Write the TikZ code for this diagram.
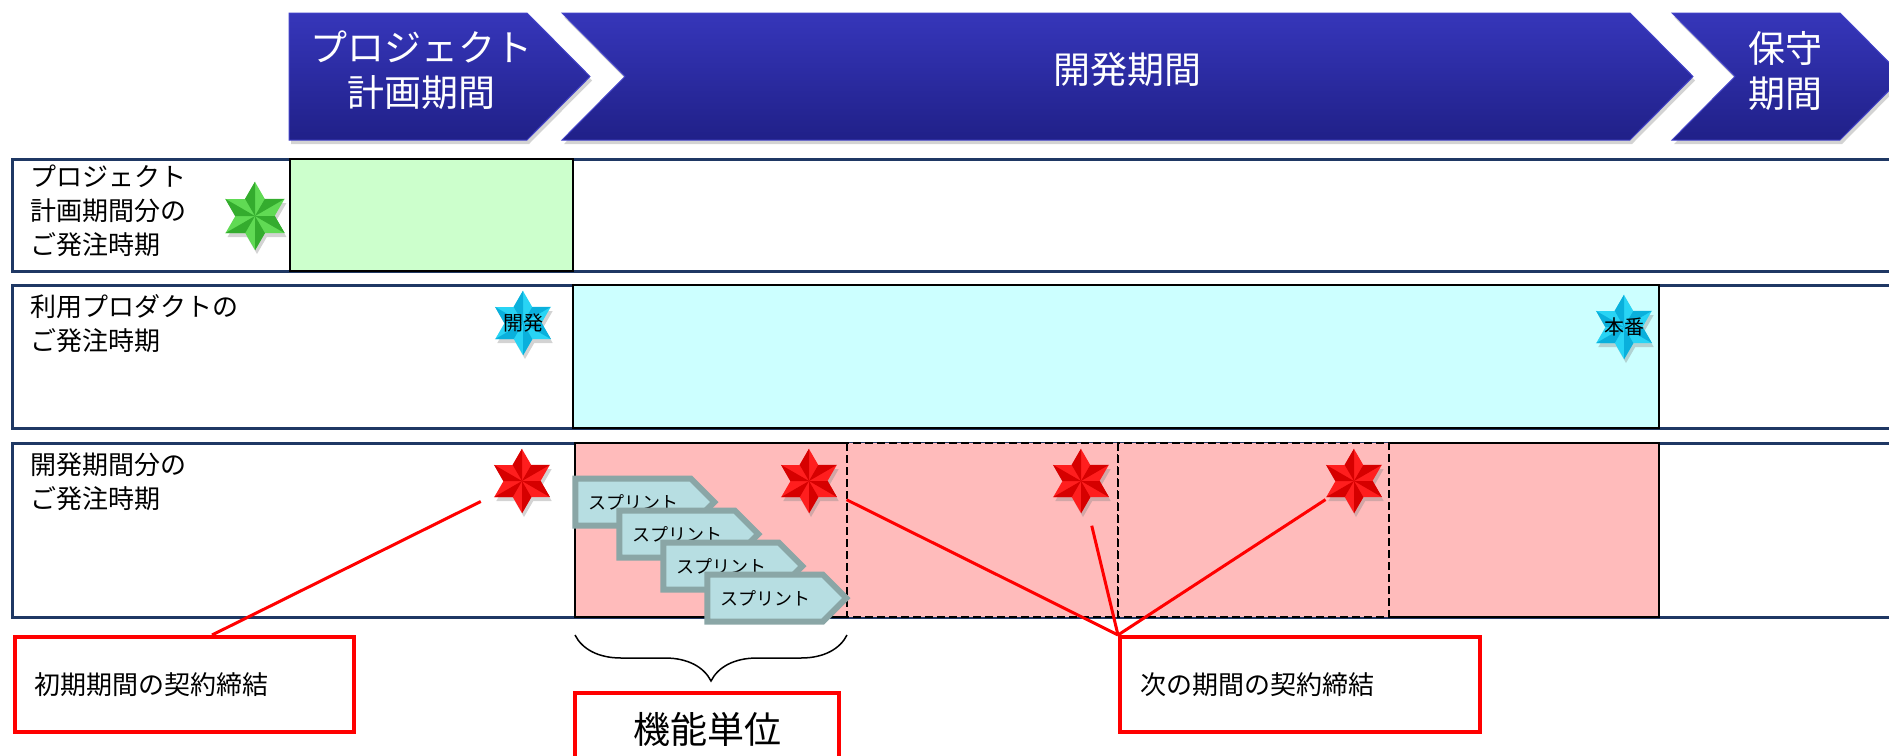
\documentclass[tikz,border=0pt]{standalone}
\usepackage{fontspec}
\setmainfont{Noto Sans CJK JP}
\usetikzlibrary{calc,shapes.geometric,shapes.symbols,shadows,decorations.pathreplacing}

\definecolor{navy}{RGB}{31,56,100}
\definecolor{chevtop}{RGB}{54,54,186}
\definecolor{chevmid}{RGB}{40,40,166}
\definecolor{chevbot}{RGB}{32,32,136}
\definecolor{chevedge}{RGB}{66,66,200}
\definecolor{greenbox}{RGB}{204,255,204}
\definecolor{cyanbox}{RGB}{204,255,255}
\definecolor{pinkbox}{RGB}{255,187,187}
\definecolor{sprintfill}{RGB}{183,222,226}
\definecolor{sprintedge}{RGB}{138,166,166}
\definecolor{redstar}{RGB}{255,30,30}
\definecolor{redstardk}{RGB}{214,0,0}
\definecolor{greenstar}{RGB}{96,218,84}
\definecolor{greenstardk}{RGB}{52,172,46}
\definecolor{cyanstar}{RGB}{40,212,245}
\definecolor{cyanstardk}{RGB}{10,176,220}

\begin{document}
\begin{tikzpicture}[x=1pt, y=-1pt,
    chev/.style={top color=chevtop, middle color=chevmid, bottom color=chevbot, draw=chevedge, line width=1pt,
        drop shadow={opacity=0.35, shadow xshift=2pt, shadow yshift=-4pt}},
    chevtext/.style={text=white, align=center, inner sep=0pt, font=\fontsize{37}{45}\selectfont},
    rowbox/.style={draw=navy, line width=3pt},
    period/.style={draw=black, line width=2pt},
    rowtext/.style={anchor=west, align=left, inner sep=0pt, font=\fontsize{26}{34}\selectfont},
    hexstar/.style={star, star points=6, star point ratio=1.732, inner sep=0pt, minimum size=64pt,
        drop shadow={opacity=0.35, shadow xshift=2pt, shadow yshift=-4pt}},
    startext/.style={inner sep=0pt, font=\fontsize{20}{20}\selectfont},
    sprint/.style={signal, signal to=east, signal pointer angle=90, fill=sprintfill, draw=sprintedge,
        line width=6pt, minimum width=139pt, minimum height=47pt, inner sep=0pt, font=\fontsize{18}{18}\selectfont},
    callout/.style={draw=red, line width=3.5pt, anchor=north west, minimum height=95pt, inner ysep=0pt,
        align=left, font=\fontsize{26}{30}\selectfont},
    callline/.style={red, line width=3pt},
]
    \useasboundingbox (0,0) rectangle (1889,755);

    \draw[rowbox] (12,159) rectangle (1900,271);
    \draw[rowbox] (12,285) rectangle (1900,428);
    \draw[rowbox] (12,443) rectangle (1900,617);

    \draw[period, fill=greenbox] (290,159) rectangle (573,271);
    \draw[period, fill=cyanbox] (573,285) rectangle (1659,428);
    \fill[pinkbox] (575,443) rectangle (1659,617);
    \foreach \x in {847,1118} {
        \draw[fill=pinkbox, line width=1.5pt, dash pattern=on 8pt off 4pt] (\x,443) rectangle ++(271,174);
    }
    \draw[period] (847,443) -- (575,443) -- (575,617) -- (847,617);
    \draw[period] (1389,443) -- (1659,443) -- (1659,617) -- (1389,617);

    \node[rowtext] (lplan) at (30,211) {プロジェクト\\計画期間分の\\ご発注時期};
    \node[rowtext] (lprod) at (30,324) {利用プロダクトの\\ご発注時期};
    \node[rowtext] (ldev) at (30,482) {開発期間分の\\ご発注時期};

    \foreach \i in {1,...,4} {
        \node[sprint] (sp\i) at ({633+44*(\i-1)}, {502+32*(\i-1)}) {スプリント};
    }

    \node[hexstar, fill=greenstar, minimum size=68pt] (sg) at (255,216) {};
    \node[hexstar, fill=cyanstar] (sdev) at (523,323) {};
    \node[hexstar, fill=cyanstar] (sprod) at (1624,327) {};
    \foreach \x [count=\i] in {522,809,1081,1354} {
        \node[hexstar, fill=redstar] (s\i) at (\x,481) {};
    }
    \foreach \s/\c in {sg/greenstardk, sdev/cyanstardk, sprod/cyanstardk, s1/redstardk, s2/redstardk, s3/redstardk, s4/redstardk} {
        \foreach \k in {1,...,6} {
            \fill[\c] (\s.center) -- (\s.outer point \k) -- (\s.inner point \k) -- cycle;
        }
    }
    \node[startext] (tdev) at (sdev) {開発};
    \node[startext] (tprod) at (sprod) {本番};

    \node[callout, text width=299pt, inner xsep=20pt] (cinit) at (13,635) {初期期間の契約締結};
    \node[callout, text width=318pt, inner xsep=21pt] (cnext) at (1118,635) {次の期間の契約締結};
    \node[callout, align=center, anchor=center, minimum width=264pt, minimum height=72pt, font=\fontsize{37}{40}\selectfont] (cunit) at (707,729) {機能単位};

    \draw[callline, shorten <=46pt] (s1.center) -- ([xshift=199pt]cinit.north west);
    \foreach \i/\d in {2/42pt, 3/46pt, 4/34pt} {
        \draw[callline, shorten <=\d] (s\i.center) -- (cnext.north west);
    }

    \draw[decorate, decoration={brace, amplitude=46pt}, line width=1.5pt] (847,635) -- (575,635);

    \path[chev] (289,13) -- (527,13) -- (590,76.5) -- (527,140) -- (289,140) -- cycle;
    \path[chev] (562,13) -- (1630,13) -- (1693,76.5) -- (1630,140) -- (562,140) -- (625,76.5) -- cycle;
    \path[chev] (1672,13) -- (1840,13) -- (1903,76.5) -- (1840,140) -- (1672,140) -- (1735,76.5) -- cycle;
    \node[chevtext] (tplan) at (421,70.5) {プロジェクト\\計画期間};
    \node[chevtext] (tdevp) at (1127,70) {開発期間};
    \node[chevtext] (tmaint) at (1785,71) {保守\\期間};
\end{tikzpicture}
\end{document}
